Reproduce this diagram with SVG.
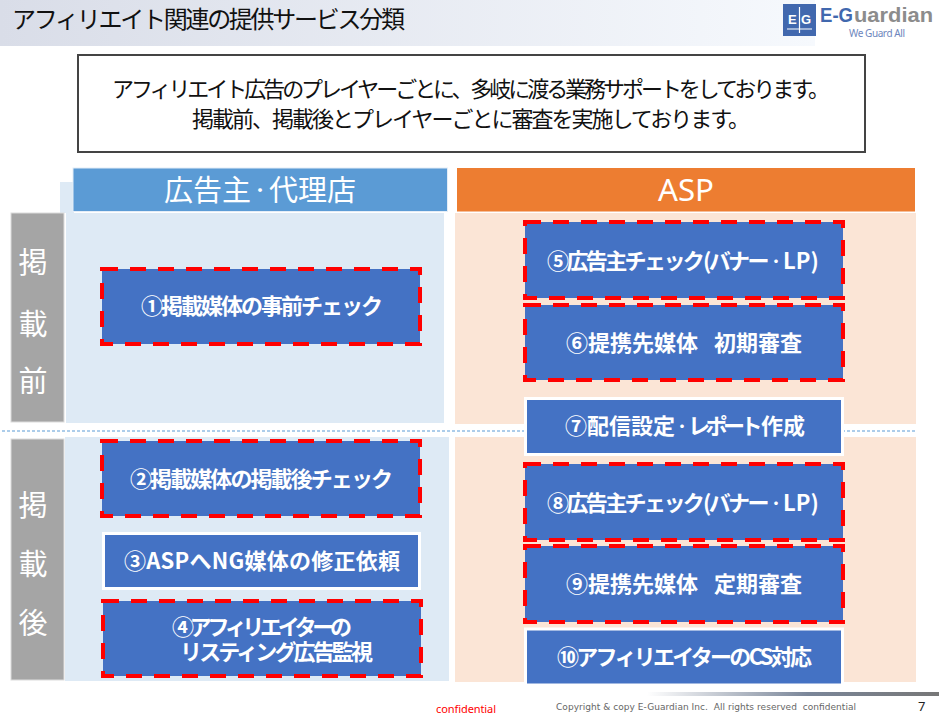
<svg xmlns="http://www.w3.org/2000/svg" width="939" height="715" viewBox="0 0 939 715">
<style>
text{font-family:"Noto Sans CJK JP","Noto Sans",sans-serif}
.lbl{font-size:22px;font-weight:700;fill:#fff}
.blk{fill:#111}
.side{font-size:29px;fill:#fff;text-anchor:middle}
.hdr{fill:#fff;font-size:29px}
.box{fill:#4472c4}
.white{stroke:#fff;stroke-width:3}
.red{fill:none;stroke:#f00;stroke-width:4;stroke-dasharray:16 12}
.foot{font-family:"DejaVu Sans",sans-serif;font-size:9px;fill:#666}
.k{letter-spacing:-2.600px}
.d{font-size:14px}
</style>
<defs>
<linearGradient id="band" x1="0" x2="1" y1="0" y2="0"><stop offset="0" stop-color="#d9dde8"/><stop offset="1" stop-color="#f6f9fd"/></linearGradient>
<linearGradient id="bar" x1="0" x2="1" y1="0" y2="0"><stop offset="0" stop-color="#fff"/><stop offset=".55" stop-color="#7a8699"/><stop offset="1" stop-color="#777"/></linearGradient>
</defs>
<g id="title-band"><rect width="815" height="46" fill="url(#band)"/><text x="12" y="28" font-size="24" class="blk" textLength="393">アフィリエイト関連の提供サービス分類</text></g>
<g id="logo">
<rect x="783" y="4" width="33" height="32" fill="#4168ae"/>
<text x="788" y="24" font-size="13" font-weight="700" fill="#fff" style="font-family:'Liberation Sans',sans-serif">E</text>
<text x="801" y="24" font-size="13" font-weight="700" fill="#fff" style="font-family:'Liberation Sans',sans-serif">G</text>
<path d="M799.500 7V33M787 29H812" stroke="#fff" stroke-width="1.200" fill="none"/>
<text x="820" y="22" font-size="21" font-weight="700" fill="#4168ae" style="font-family:'Liberation Sans',sans-serif" textLength="33" lengthAdjust="spacingAndGlyphs">E-G</text>
<text x="854" y="22" font-size="21" font-weight="700" fill="#8c8c8c" style="font-family:'Liberation Sans',sans-serif" textLength="79" lengthAdjust="spacingAndGlyphs">uardian</text>
<text x="849" y="37" font-size="10" fill="#6d86bd" style="font-family:'Noto Sans',sans-serif" textLength="56">We Guard All</text>
</g>
<g id="intro"><rect x="78" y="55" width="787" height="97" fill="#fff" stroke="#444" stroke-width="2"/>
<text x="112" y="97" font-size="22" class="blk" textLength="718">アフィリエイト広告のプレイヤーごとに、多岐に渡る業務サポートをしております。</text>
<text x="192" y="127" font-size="22" class="blk" textLength="558">掲載前、掲載後とプレイヤーごとに審査を実施しております。</text></g>
<g id="panels">
<rect x="60" y="182" width="14" height="31" fill="#deeaf5"/>
<rect x="66" y="213" width="378" height="210" fill="#deeaf5"/>
<rect x="65" y="437" width="384" height="244" fill="#deeaf5"/>
<rect x="455" y="213" width="461" height="211" fill="#fbe5d6"/>
<rect x="455" y="437" width="461" height="245" fill="#fbe5d6"/>
</g>
<g id="connectors"><path d="M2 431H915" stroke="#5b9bd5" stroke-width="1" stroke-dasharray="3 2" fill="none"/></g>
<g id="header-advertiser"><rect x="73" y="168" width="374.500" height="43.500" fill="#5b9bd5" stroke="#e4edf7" stroke-width="1"/><text class="hdr" x="164" y="201">広告主<tspan x="251" dy="-4" style="font-size:18px">・</tspan><tspan x="269" dy="4">代理店</tspan></text></g>
<g id="header-asp"><rect x="457" y="168" width="458" height="43.500" fill="#ed7d31"/><text class="hdr" x="658" y="201" style="font-family:'Noto Sans',sans-serif;font-size:31px" textLength="56" lengthAdjust="spacingAndGlyphs">ASP</text></g>
<g id="side-before"><rect x="11" y="213" width="53" height="209" fill="#a5a5a5" stroke="#dcdcdc"/><text class="side" x="33" y="273">掲</text><text class="side" x="33" y="335">載</text><text class="side" x="33" y="392">前</text></g>
<g id="side-after"><rect x="11" y="439" width="53" height="241" fill="#a5a5a5" stroke="#dcdcdc"/><text class="side" x="33" y="516">掲</text><text class="side" x="33" y="575">載</text><text class="side" x="33" y="634">後</text></g>
<g id="n1"><rect class="box" x="102" y="269" width="318" height="75"/><rect class="red" x="102" y="269" width="318" height="75"/><text class="lbl" x="141" y="314" textLength="242">①掲載媒体の事前チェック</text></g>
<g id="n2"><rect class="box" x="102" y="441" width="318" height="75"/><rect class="red" x="102" y="441" width="318" height="75"/><text class="lbl" x="130" y="487" textLength="263">②掲載媒体の掲載後チェック</text></g>
<g id="n3"><rect class="box white" x="103.500" y="533.500" width="316" height="55"/><text class="lbl" x="124" y="569" textLength="276">③ASPへNG媒体の修正依頼</text></g>
<g id="n4"><rect class="box" x="103" y="601" width="318" height="75"/><rect class="red" x="103" y="601" width="318" height="75"/><text class="lbl" x="172" y="635" textLength="180">④アフィリエイターの</text><text class="lbl" x="180" y="660" textLength="193">リスティング広告監視</text></g>
<g id="n5"><rect class="box" x="525" y="222" width="318" height="76"/><rect class="red" x="525" y="222" width="318" height="76"/><text class="lbl" x="547" y="269"><tspan class="k">⑤広告主チェック</tspan><tspan x="703" class="k">(バナー</tspan><tspan x="769" dy="-3" class="d">・</tspan><tspan x="783" dy="3">LP)</tspan></text></g>
<g id="n6"><rect class="box" x="525" y="305" width="318" height="75"/><rect class="red" x="525" y="305" width="318" height="75"/><text class="lbl" x="566" y="351">⑥提携先媒体<tspan x="714">初期審査</tspan></text></g>
<g id="n7"><rect class="box white" x="525.500" y="398.500" width="317" height="56"/><text class="lbl" x="565" y="434">⑦配信設定<tspan x="675" dy="-3" class="d">・</tspan><tspan x="688" dy="3" style="letter-spacing:-4.500px">レポート</tspan><tspan x="761">作成</tspan></text></g>
<g id="n8"><rect class="box" x="525" y="464" width="318" height="76"/><rect class="red" x="525" y="464" width="318" height="76"/><text class="lbl" x="547" y="511"><tspan class="k">⑧広告主チェック</tspan><tspan x="703" class="k">(バナー</tspan><tspan x="769" dy="-3" class="d">・</tspan><tspan x="783" dy="3">LP)</tspan></text></g>
<g id="n9"><rect class="box" x="525" y="546" width="318" height="76"/><rect class="red" x="525" y="546" width="318" height="76"/><text class="lbl" x="566" y="592">⑨提携先媒体<tspan x="714">定期審査</tspan></text></g>
<g id="n10"><rect class="box white" x="525.500" y="629" width="317" height="56"/><text class="lbl" x="557" y="665" textLength="255">⑩アフィリエイターのCS対応</text></g>
<g id="footer">
<rect x="647" y="692" width="292" height="4" fill="url(#bar)"/>
<text x="436" y="713" font-size="11" fill="#f00" style="font-family:'Noto Sans',sans-serif" textLength="60">confidential</text>
<text class="foot" x="556" y="710" textLength="300" xml:space="preserve">Copyright &amp; copy E-Guardian Inc.  All rights reserved  confidential</text>
<text x="918" y="711" font-size="13" fill="#222" style="font-family:'Noto Sans',sans-serif">7</text>
</g>
</svg>
